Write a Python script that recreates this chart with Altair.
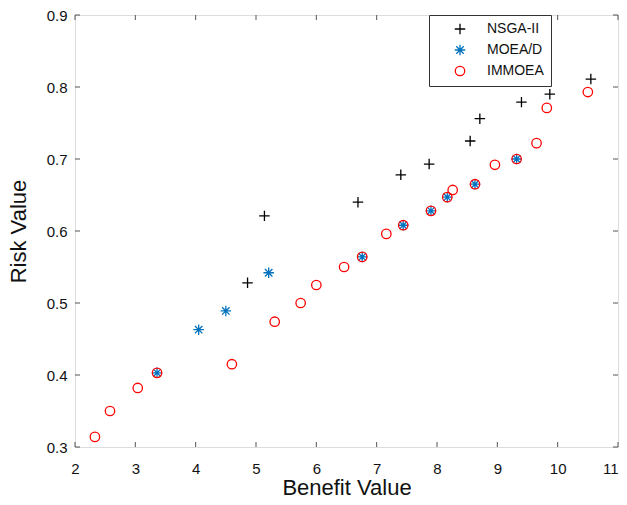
import altair as alt
import pandas as pd

# ---- data ----
algorithms = ["NSGA-II", "MOEA/D", "IMMOEA"]

nsga_x = [4.86, 5.14, 6.69, 7.40, 7.87, 8.55, 8.71, 9.40, 9.87, 10.55]
nsga_y = [0.528, 0.621, 0.640, 0.678, 0.693, 0.725, 0.756, 0.779, 0.790, 0.811]

moead_x = [3.36, 4.05, 4.50, 5.21, 6.76, 7.44, 7.90, 8.17, 8.63, 9.32]
moead_y = [0.403, 0.463, 0.489, 0.542, 0.564, 0.608, 0.628, 0.647, 0.665, 0.700]

immoea_x = [2.33, 2.58, 3.04, 3.36, 4.60, 5.31, 5.74, 6.00, 6.46, 6.76, 7.16,
            7.44, 7.90, 8.17, 8.26, 8.63, 8.96, 9.32, 9.65, 9.82, 10.50]
immoea_y = [0.314, 0.350, 0.382, 0.403, 0.415, 0.474, 0.500, 0.525, 0.550, 0.564, 0.596,
            0.608, 0.628, 0.647, 0.657, 0.665, 0.692, 0.700, 0.722, 0.771, 0.793]

x_ticks = [2, 3, 4, 5, 6, 7, 8, 9, 10, 11]
y_ticks = [0.3, 0.4, 0.5, 0.6, 0.7, 0.8, 0.9]

# ---- build tables ----
rows = []
for name, xs, ys in [("NSGA-II", nsga_x, nsga_y), ("MOEA/D", moead_x, moead_y),
                     ("IMMOEA", immoea_x, immoea_y)]:
    for a, b in zip(xs, ys):
        rows.append({"x": a, "y": b, "Algorithm": name})
df = pd.DataFrame(rows)
xt = pd.DataFrame({"x": x_ticks})
yt = pd.DataFrame({"y": y_ticks})

W, H = 543, 432
FRAME = "#555555"
FONT = "Liberation Sans"
TL = 5  # inward tick length

plus = "M-1,0L1,0M0,-1L0,1"
asterisk = "M-1,0L1,0M0,-1L0,1M-0.71,-0.71L0.71,0.71M-0.71,0.71L0.71,-0.71"
circ = "M0.9,0A0.9,0.9,0,1,1,-0.9,0A0.9,0.9,0,1,1,0.9,0Z"

xscale = alt.Scale(domain=[2, 11], nice=False, zero=False)
yscale = alt.Scale(domain=[0.3, 0.9], nice=False, zero=False)

xaxis = alt.Axis(values=x_ticks, format="d", title="Benefit Value", titleFontSize=22,
                 titleFontWeight="normal", titleFont=FONT, labelFont=FONT, labelFontSize=15,
                 ticks=False, tickSize=0, domain=False, grid=False, labelPadding=14,
                 labelAlign=alt.ExprRef(expr="datum.value == 11 ? 'right' : 'center'"),
                 titleX=W / 2, titleY=47, titleBaseline="alphabetic",
                 labelFlush=False, labelColor="#111111", titleColor="#111111")
yaxis = alt.Axis(values=y_ticks, format=".1f", title="Risk Value", titleFontSize=22,
                 titleFontWeight="normal", titleFont=FONT, labelFont=FONT, labelFontSize=15,
                 ticks=False, tickSize=0, domain=False, grid=False, labelPadding=8,
                 titleX=-50, titleY=H / 2, titleBaseline="alphabetic",
                 labelFlush=False, labelColor="#111111", titleColor="#111111")


def X():
    return alt.X("x:Q", scale=xscale, axis=xaxis)


def Y():
    return alt.Y("y:Q", scale=yscale, axis=yaxis)


tick_bottom = alt.Chart(xt).mark_rule(color=FRAME, strokeWidth=1).encode(
    x=X(), y=alt.value(H), y2=alt.value(H - TL))
tick_top = alt.Chart(xt).mark_rule(color=FRAME, strokeWidth=1).encode(
    x=X(), y=alt.value(0), y2=alt.value(TL))
tick_left = alt.Chart(yt).mark_rule(color=FRAME, strokeWidth=1).encode(
    y=Y(), x=alt.value(0), x2=alt.value(TL))
tick_right = alt.Chart(yt).mark_rule(color=FRAME, strokeWidth=1).encode(
    y=Y(), x=alt.value(W), x2=alt.value(W - TL))

legend = alt.Legend(title=None, orient="none", legendX=354, legendY=0, fillColor="white",
                    strokeColor="#333333", padding=7, symbolOffset=17, labelOffset=20,
                    rowPadding=5, labelFontSize=14, labelFont=FONT, labelColor="#111111",
                    symbolSize=110, symbolStrokeWidth=1.3)

points = alt.Chart(df).mark_point(filled=False, strokeWidth=1.3, size=110, opacity=1).encode(
    x=X(),
    y=Y(),
    shape=alt.Shape("Algorithm:N", scale=alt.Scale(domain=algorithms,
                                                   range=[plus, asterisk, circ]),
                    legend=legend),
    color=alt.Color("Algorithm:N", scale=alt.Scale(domain=algorithms,
                                                   range=["#000000", "#0072BD", "#FF0000"]),
                    legend=legend),
)

chart = alt.layer(tick_bottom, tick_top, tick_left, tick_right, points).properties(
    width=W, height=H,
    autosize=alt.AutoSizeParams(type="none"),
    padding={"left": 67, "top": 7, "right": 1, "bottom": 49},
    background="white",
).configure_view(stroke=FRAME, strokeWidth=1.5).configure(font=FONT)

chart.save("out.html", embed_options={"renderer": "svg", "actions": False})
